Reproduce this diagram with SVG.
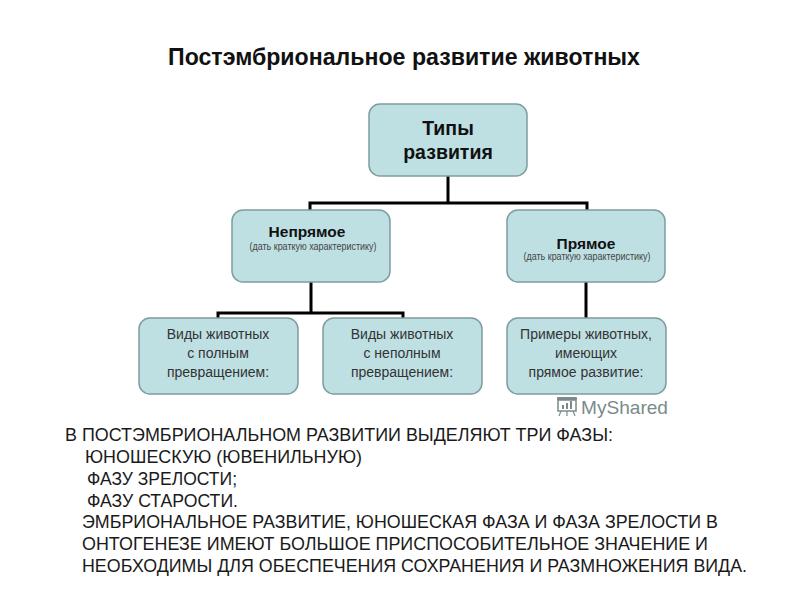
<svg xmlns="http://www.w3.org/2000/svg" width="800" height="600" viewBox="0 0 800 600">
<style>
.box{fill:#bee0e3;stroke:#7f9c9f;stroke-width:1.5}
.con{fill:none;stroke:#000;stroke-width:3}
.h{font-family:"Liberation Sans",Arial,sans-serif;font-weight:bold;fill:#111;text-anchor:middle}
.s{font-family:"Liberation Sans",Arial,sans-serif;fill:#444;text-anchor:middle;font-size:10px}
.b{font-family:"Liberation Sans",Arial,sans-serif;fill:#333;text-anchor:middle;font-size:14px}
.t{font-family:"Liberation Sans",Arial,sans-serif;fill:#1a1a1a;font-size:18.5px}
</style>
<rect width="800" height="600" fill="#fff"/>
<text x="404" y="65" class="h" font-size="23.5" textLength="472" lengthAdjust="spacingAndGlyphs">Постэмбриональное развитие животных</text>
<g id="connectors">
<path class="con" d="M448 176V203M310 210V203H587V210M311 282V313M218 318V313H403V318M586 282V318"/>
</g>
<g id="types">
<rect class="box" x="369" y="104" width="158" height="72" rx="11"/>
<text x="448" y="135" class="h" font-size="19.5">Типы</text>
<text x="448" y="159" class="h" font-size="19.5">развития</text>
</g>
<g id="indirect">
<rect class="box" x="232" y="210" width="158" height="72" rx="11"/>
<text x="307" y="237" class="h" font-size="15.5">Непрямое</text>
<text x="313" y="250" class="s" textLength="127" lengthAdjust="spacingAndGlyphs">(дать краткую характеристику)</text>
</g>
<g id="direct">
<rect class="box" x="507" y="210" width="158" height="72" rx="11"/>
<text x="586" y="249" class="h" font-size="15.5">Прямое</text>
<text x="587" y="260" class="s" textLength="127" lengthAdjust="spacingAndGlyphs">(дать краткую характеристику)</text>
</g>
<g id="complete">
<rect class="box" x="139" y="318" width="159" height="76" rx="11"/>
<text x="218" y="339" class="b">Виды животных</text>
<text x="218" y="358" class="b">с полным</text>
<text x="218" y="377" class="b">превращением:</text>
</g>
<g id="incomplete">
<rect class="box" x="323" y="318" width="159" height="76" rx="11"/>
<text x="402" y="339" class="b">Виды животных</text>
<text x="402" y="358" class="b">с неполным</text>
<text x="402" y="377" class="b">превращением:</text>
</g>
<g id="examples">
<rect class="box" x="507" y="318" width="159" height="76" rx="11"/>
<text x="586" y="339" class="b">Примеры животных,</text>
<text x="586" y="358" class="b">имеющих</text>
<text x="586" y="377" class="b">прямое развитие:</text>
</g>
<g id="watermark" fill="#7b8b8b">
<rect x="557" y="397" width="20" height="3" rx="1"/>
<rect x="558" y="400" width="18" height="11" fill="none" stroke="#7b8b8b" stroke-width="1.5"/>
<rect x="562" y="405" width="2" height="4"/><rect x="566" y="403" width="2" height="6"/><rect x="570" y="401" width="2" height="8"/>
<path d="M561 411l-2 5M573 411l2 5M567 411v5" stroke="#7b8b8b" stroke-width="1.2"/>
<text x="581" y="414" font-family="'Liberation Sans',Arial,sans-serif" font-size="19" textLength="87" lengthAdjust="spacingAndGlyphs">MyShared</text>
</g>
<g id="notes" class="t">
<text x="65" y="441" textLength="548" lengthAdjust="spacingAndGlyphs">В ПОСТЭМБРИОНАЛЬНОМ РАЗВИТИИ ВЫДЕЛЯЮТ ТРИ ФАЗЫ:</text>
<text x="85" y="463" textLength="277" lengthAdjust="spacingAndGlyphs">ЮНОШЕСКУЮ (ЮВЕНИЛЬНУЮ)</text>
<text x="87" y="485" textLength="150" lengthAdjust="spacingAndGlyphs">ФАЗУ ЗРЕЛОСТИ;</text>
<text x="87" y="507" textLength="151" lengthAdjust="spacingAndGlyphs">ФАЗУ СТАРОСТИ.</text>
<text x="82" y="528" textLength="636" lengthAdjust="spacingAndGlyphs">ЭМБРИОНАЛЬНОЕ РАЗВИТИЕ, ЮНОШЕСКАЯ ФАЗА И ФАЗА ЗРЕЛОСТИ В</text>
<text x="82" y="550" textLength="626" lengthAdjust="spacingAndGlyphs">ОНТОГЕНЕЗЕ ИМЕЮТ БОЛЬШОЕ ПРИСПОСОБИТЕЛЬНОЕ ЗНАЧЕНИЕ И</text>
<text x="82" y="572" textLength="665" lengthAdjust="spacingAndGlyphs">НЕОБХОДИМЫ ДЛЯ ОБЕСПЕЧЕНИЯ СОХРАНЕНИЯ И РАЗМНОЖЕНИЯ ВИДА.</text>
</g>
</svg>
